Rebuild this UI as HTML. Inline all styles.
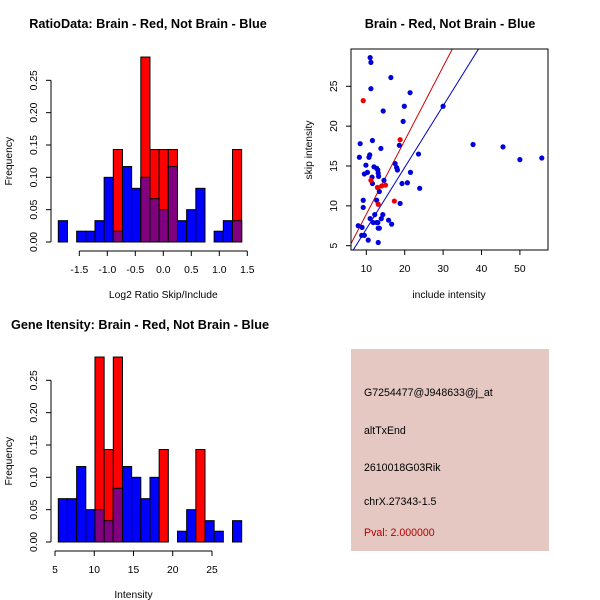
<!DOCTYPE html>
<html><head><meta charset="utf-8"><style>
html,body{margin:0;padding:0;background:#fff;}
svg{display:block;font-family:"Liberation Sans",sans-serif;}
</style></head><body>
<svg id="c" width="600" height="600" viewBox="0 0 600 600">
<rect width="600" height="600" fill="#fff"/>
<g id="tl"></g>
<g id="tr"></g>
<g id="bl"></g>
<g>
<rect x="351" y="349" width="198" height="202" fill="#e5c8c2"/>
<text x="364" y="396" font-size="10.6">G7254477@J948633@j_at</text>
<text x="364" y="434" font-size="10.6">altTxEnd</text>
<text x="364" y="471" font-size="10.6">2610018G03Rik</text>
<text x="364" y="505" font-size="10.6">chrX.27343-1.5</text>
<text x="364" y="536" font-size="10.6" fill="#b00000">Pval: 2.000000</text>
</g>
</svg>
<script>
// ---- data: ratio histogram ----
const ratioBinStart = -1.875;
const ratioBinWidth = 0.1637;
const ratioBlue = [0.033,0,0.0167,0.0167,0.033,0.10,0.0167,0.1167,0.083,0.10,0.067,0.05,0.1167,0.033,0.05,0.083,0,0.0167,0.033,0.033];
const ratioRed  = [0,0,0,0,0,0,0.143,0,0,0.286,0.143,0.143,0.143,0,0,0,0,0,0,0.143];
const ratioXTicks = [-1.5,-1.0,-0.5,0.0,0.5,1.0,1.5];
const freqTicks = [0,0.05,0.10,0.15,0.20,0.25];
// ---- data: gene intensity histogram ----
const intBinStart = 5.42;
const intBinWidth = 1.168;
const intBlue = [0.067,0.067,0.1167,0.05,0.05,0.033,0.083,0.1167,0.10,0.067,0.10,0,0,0.0167,0.05,0,0.033,0.0167,0,0.033];
const intRed  = [0,0,0,0,0.286,0.143,0.286,0,0,0,0,0.143,0,0,0,0.143,0,0,0,0];
const intXTicks = [5,10,15,20,25];
// ---- data: scatter ----
const blueX = [11.0,11.2,16.4,11.2,21.4,19.9,30.0,14.4,19.6,8.4,11.6,13.8,18.6,37.8,45.6,50.0,55.7,8.2,10.9,10.7,9.9,12.0,12.7,13.0,13.1,13.2,9.5,10.3,11.5,11.6,17.5,17.9,18.1,23.6,21.5,20.7,19.3,23.9,14.6,13.4,18.8,9.2,9.2,12.7,12.2,11.0,11.8,13.0,13.9,14.3,15.8,16.6,7.9,8.9,8.8,9.5,10.5,13.1,13.1,13.4,12.7];
const blueY = [28.6,28.0,26.1,24.7,24.2,22.5,22.5,21.9,20.6,17.8,18.2,17.2,17.6,17.7,17.4,15.8,16.0,16.1,16.4,16.1,15.1,14.9,14.7,14.5,14.1,13.7,14.0,14.2,13.6,12.8,15.3,14.8,14.5,16.5,14.2,12.9,12.8,12.2,13.2,11.8,10.3,10.7,9.8,10.7,8.9,8.4,7.9,7.9,8.4,8.9,8.2,7.7,7.5,7.3,6.3,6.3,5.7,5.4,7.2,7.2,7.9];
const redX = [9.2,18.8,11.2,12.9,14.0,15.0,13.1,17.3];
const redY = [23.2,18.3,13.2,12.3,12.5,12.6,10.2,10.6];
const scXTicks = [10,20,30,40,50];
const scYTicks = [5,10,15,20,25];
const fitIntercept = [-0.32,-0.64];   // red, blue
const fitSlope = [0.926,0.773];
const fitColor = ['#d00000','#0000c0'];

const NS='http://www.w3.org/2000/svg';
const FS=10.3;
function mk(parent,tag,attrs,name,txt){
  const e=document.createElementNS(NS,tag);
  for(const k in attrs) e.setAttribute(k,attrs[k]);
  
  
  if(txt!==undefined) e.textContent=txt;
  parent.appendChild(e); return e;
}

function histogram(g, o){
  const X=v=>o.x0px+(v-o.x0)*o.xs, Y=v=>o.y0px-v*o.ys;
  mk(g,'text',{x:o.titleX,y:o.titleY,'font-size':12.7,'font-weight':'bold','text-anchor':'middle'},'title',o.title);
  for(let i=0;i<o.blue.length;i++){
    const a=X(o.start+i*o.w), b=X(o.start+(i+1)*o.w);
    const bl=o.blue[i], rd=o.red[i];
    if(bl>0) mk(g,'rect',{x:a,y:Y(bl),width:b-a,height:Y(0)-Y(bl),fill:'#0000ff',stroke:'#000','stroke-width':1},'blue-bar');
    if(rd>0) mk(g,'rect',{x:a,y:Y(rd),width:b-a,height:Y(0)-Y(rd),fill:'#ff0000',stroke:'#000','stroke-width':1},'red-bar');
    const m=Math.min(bl,rd);
    if(m>0) mk(g,'rect',{x:a,y:Y(m),width:b-a,height:Y(0)-Y(m),fill:'#800080',stroke:'#000','stroke-width':1},'overlap-bar');
  }
  mk(g,'line',{x1:o.yAxisX,x2:o.yAxisX,y1:Y(0),y2:Y(0.25),stroke:'#000'},'y-axis');
  freqTicks.forEach(t=>{
    mk(g,'line',{x1:o.yAxisX-5,x2:o.yAxisX,y1:Y(t),y2:Y(t),stroke:'#000'},'y-tick');
    mk(g,'text',{x:0,y:0,'font-size':FS,'text-anchor':'middle',transform:`translate(${o.yAxisX-14},${Y(t)}) rotate(-90)`},'y-tick-label',t.toFixed(2));
  });
  mk(g,'text',{x:0,y:0,'font-size':FS,'text-anchor':'middle',transform:`translate(12,${Y(0.125)}) rotate(-90)`},'y-axis-title','Frequency');
  const ax=o.xAxisY;
  mk(g,'line',{x1:X(o.ticks[0]),x2:X(o.ticks[o.ticks.length-1]),y1:ax,y2:ax,stroke:'#000'},'x-axis');
  o.ticks.forEach(t=>{
    mk(g,'line',{x1:X(t),x2:X(t),y1:ax,y2:ax+5,stroke:'#000'},'x-tick');
    mk(g,'text',{x:X(t),y:ax+22,'font-size':FS,'text-anchor':'middle'},'x-tick-label',o.fmt(t));
  });
  mk(g,'text',{x:(X(o.ticks[0])+X(o.ticks[o.ticks.length-1]))/2,y:ax+47,'font-size':FS,'text-anchor':'middle'},'x-axis-title',o.xlabel);
}

histogram(document.getElementById('tl'),{title:'RatioData: Brain - Red, Not Brain - Blue',titleX:148,titleY:28,
  x0:-1.5,x0px:79.3,xs:56,y0px:242,ys:646.7,start:ratioBinStart,w:ratioBinWidth,blue:ratioBlue,red:ratioRed,
  yAxisX:51,xAxisY:251,ticks:ratioXTicks,fmt:t=>t.toFixed(1),xlabel:'Log2 Ratio Skip/Include'});
histogram(document.getElementById('bl'),{title:'Gene Itensity: Brain - Red, Not Brain - Blue',titleX:140,titleY:329,
  x0:5,x0px:55,xs:7.85,y0px:542,ys:646.7,start:intBinStart,w:intBinWidth,blue:intBlue,red:intRed,
  yAxisX:51,xAxisY:551,ticks:intXTicks,fmt:t=>String(t),xlabel:'Intensity'});

(function(){
  const g=document.getElementById('tr');
  const L=351,R=548,T=49,B=250;
  const X=v=>366.3+(v-10)*3.84, Y=v=>245.7-(v-5)*7.97;
  mk(g,'text',{x:450,y:28,'font-size':12.7,'font-weight':'bold','text-anchor':'middle'},'title','Brain - Red, Not Brain - Blue');
  const cp=mk(g,'clipPath',{id:'scclip'},'clip');
  mk(cp,'rect',{x:L,y:T,width:R-L,height:B-T},'clip-rect');
  const lg=mk(g,'g',{'clip-path':'url(#scclip)'},'plot-area');
  for(let k=0;k<2;k++){
    mk(lg,'line',{x1:X(0),y1:Y(fitIntercept[k]),x2:X(80),y2:Y(fitIntercept[k]+fitSlope[k]*80),stroke:fitColor[k],'stroke-width':1},k?'blue-fit-line':'red-fit-line');
  }
  for(let i=0;i<blueX.length;i++) mk(lg,'circle',{cx:X(blueX[i]),cy:Y(blueY[i]),r:2.6,fill:'#0000dd'},'blue-point');
  for(let i=0;i<redX.length;i++) mk(lg,'circle',{cx:X(redX[i]),cy:Y(redY[i]),r:2.6,fill:'#ee0000'},'red-point');
  mk(g,'rect',{x:L,y:T,width:R-L,height:B-T,fill:'none',stroke:'#000'},'plot-box');
  scXTicks.forEach(t=>{
    mk(g,'line',{x1:X(t),x2:X(t),y1:B,y2:B+5,stroke:'#000'},'x-tick');
    mk(g,'text',{x:X(t),y:B+22,'font-size':FS,'text-anchor':'middle'},'x-tick-label',String(t));
  });
  scYTicks.forEach(t=>{
    mk(g,'line',{x1:L-5,x2:L,y1:Y(t),y2:Y(t),stroke:'#000'},'y-tick');
    mk(g,'text',{x:0,y:0,'font-size':FS,'text-anchor':'middle',transform:`translate(${L-14},${Y(t)}) rotate(-90)`},'y-tick-label',String(t));
  });
  mk(g,'text',{x:449,y:298,'font-size':FS,'text-anchor':'middle'},'x-axis-title','include intensity');
  mk(g,'text',{x:0,y:0,'font-size':FS,'text-anchor':'middle',transform:`translate(312,150) rotate(-90)`},'y-axis-title','skip intensity');
})();
</script>
</body></html>
